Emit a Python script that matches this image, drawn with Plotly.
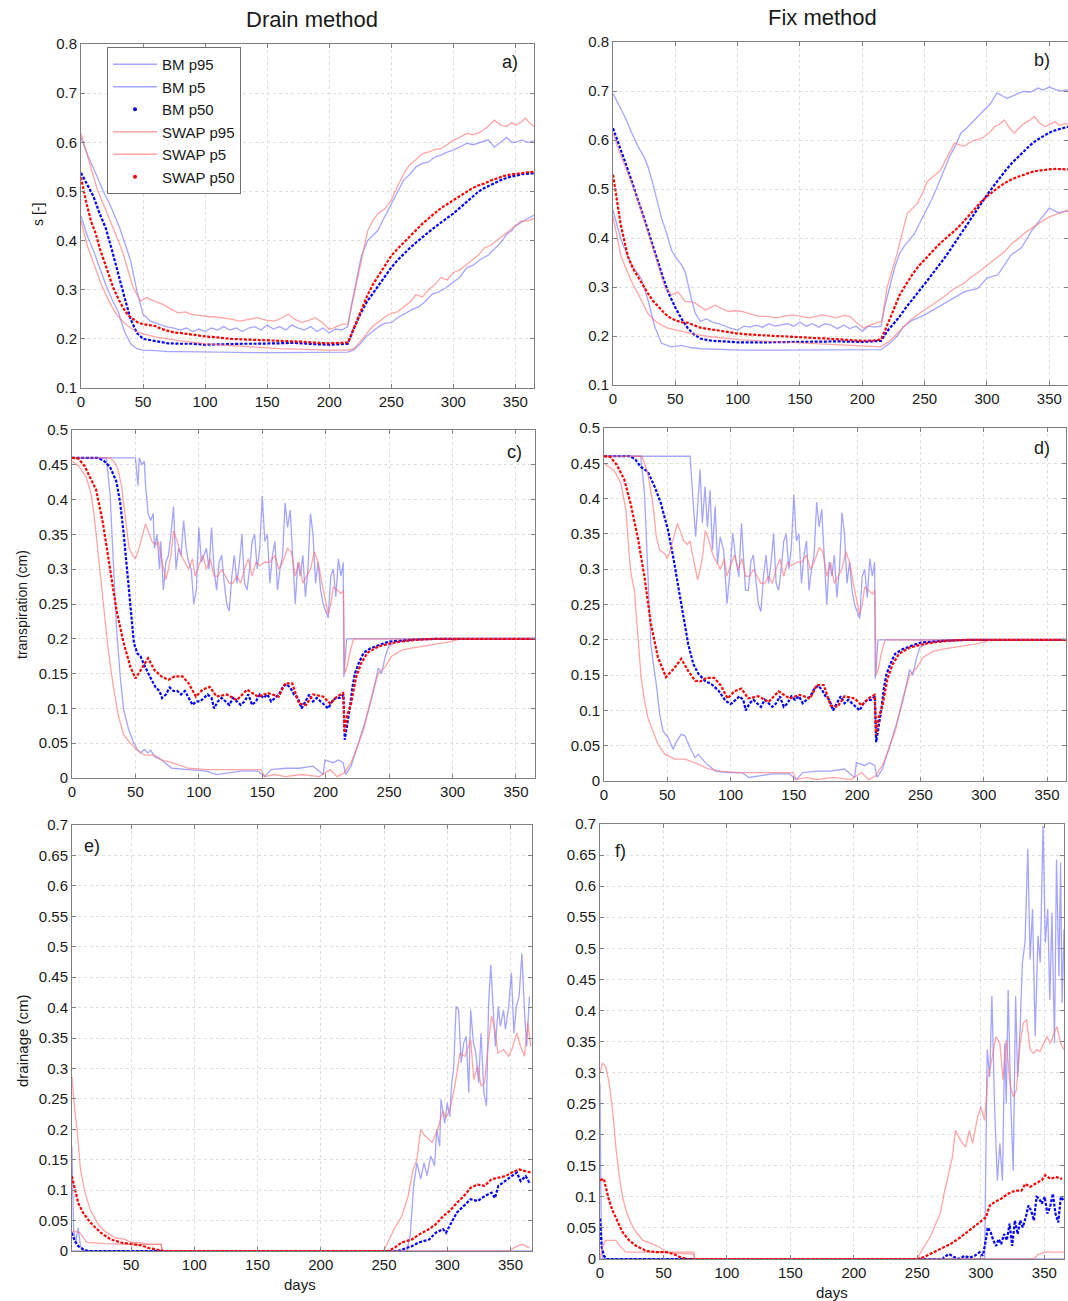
import plotly.graph_objects as go

W, H = 1068, 1301

# ---------------- tick definitions ----------------
DAY_TICKS = [0, 50, 100, 150, 200, 250, 300, 350]
S_TICKS = [0.1, 0.2, 0.3, 0.4, 0.5, 0.6, 0.7, 0.8]
T_TICKS = [0, 0.05, 0.1, 0.15, 0.2, 0.25, 0.3, 0.35, 0.4, 0.45, 0.5]
D_TICKS = [0, 0.05, 0.1, 0.15, 0.2, 0.25, 0.3, 0.35, 0.4, 0.45, 0.5, 0.55, 0.6, 0.65, 0.7]

SERIES_NAMES = ["BM p95", "BM p5", "BM p50", "SWAP p95", "SWAP p5", "SWAP p50"]

# ---------------- panel a: s [-], drain method ----------------
a_bm95 = [(0,0.61),(6,0.57),(12,0.536),(18,0.5),(23,0.475),(27,0.45),(31,0.427),(36,0.39),(40,0.359),(45,0.298),(50,0.25),(56,0.236),(60,0.232),(65,0.228),(70,0.224),(75,0.222),(80,0.218),(85,0.222),(90,0.215),(95,0.22),(100,0.215),(105,0.222),(110,0.218),(115,0.225),(120,0.218),(125,0.222),(130,0.215),(135,0.222),(140,0.225),(145,0.218),(150,0.228),(155,0.22),(160,0.225),(165,0.218),(170,0.228),(175,0.222),(180,0.218),(185,0.225),(190,0.215),(195,0.222),(200,0.212),(205,0.22),(210,0.218),(215,0.225),(218,0.27),(222,0.32),(226,0.37),(231,0.4),(235,0.41),(239,0.42),(245,0.45),(250,0.475),(255,0.5),(260,0.523),(265,0.535),(270,0.55),(275,0.557),(280,0.56),(285,0.57),(290,0.574),(295,0.58),(300,0.584),(305,0.59),(311,0.598),(316,0.595),(322,0.6),(328,0.605),(333,0.59),(338,0.6),(343,0.61),(347,0.6),(350,0.6),(355,0.605),(360,0.6),(365,0.603)]
a_bm5 = [(0,0.45),(5,0.41),(10,0.38),(15,0.345),(20,0.31),(25,0.28),(30,0.255),(35,0.215),(40,0.19),(45,0.18),(50,0.177),(60,0.176),(70,0.174),(80,0.174),(100,0.173),(120,0.172),(140,0.172),(160,0.172),(180,0.172),(200,0.172),(215,0.173),(220,0.178),(225,0.19),(230,0.205),(235,0.215),(240,0.225),(245,0.232),(250,0.233),(255,0.243),(260,0.25),(267,0.26),(272,0.265),(277,0.275),(283,0.291),(288,0.295),(294,0.304),(300,0.315),(305,0.325),(311,0.345),(316,0.35),(322,0.362),(328,0.37),(333,0.383),(338,0.395),(343,0.413),(347,0.42),(350,0.43),(355,0.438),(360,0.445),(365,0.452)]
a_bm50 = [(0,0.538),(5,0.515),(10,0.49),(15,0.455),(20,0.425),(25,0.38),(30,0.33),(35,0.285),(40,0.24),(45,0.212),(50,0.2),(55,0.198),(60,0.196),(65,0.194),(70,0.191),(80,0.19),(90,0.19),(100,0.188),(110,0.189),(120,0.19),(130,0.19),(140,0.19),(150,0.19),(160,0.191),(170,0.192),(180,0.19),(190,0.189),(200,0.188),(210,0.189),(215,0.19),(220,0.222),(225,0.25),(230,0.274),(235,0.292),(240,0.31),(245,0.328),(250,0.345),(255,0.36),(260,0.373),(265,0.385),(270,0.396),(275,0.407),(280,0.417),(285,0.427),(290,0.437),(295,0.446),(300,0.455),(305,0.466),(310,0.478),(315,0.489),(320,0.499),(325,0.507),(330,0.513),(335,0.519),(340,0.525),(345,0.529),(350,0.532),(355,0.535),(360,0.536),(365,0.537)]
a_sw95 = [(0,0.618),(5,0.575),(9,0.536),(13,0.505),(17,0.48),(22,0.45),(26,0.427),(30,0.4),(34,0.373),(38,0.34),(42,0.304),(48,0.277),(53,0.284),(58,0.278),(62,0.274),(66,0.27),(70,0.264),(74,0.258),(78,0.253),(84,0.255),(89,0.25),(95,0.248),(100,0.246),(107,0.245),(114,0.243),(121,0.24),(128,0.236),(135,0.24),(142,0.243),(149,0.238),(156,0.236),(162,0.243),(167,0.25),(172,0.24),(178,0.233),(184,0.238),(189,0.243),(195,0.232),(200,0.219),(206,0.225),(211,0.23),(215,0.23),(220,0.29),(225,0.345),(231,0.42),(235,0.44),(239,0.454),(245,0.465),(250,0.482),(255,0.51),(260,0.536),(265,0.555),(270,0.565),(275,0.577),(280,0.58),(285,0.585),(290,0.587),(295,0.595),(300,0.604),(305,0.61),(311,0.618),(316,0.615),(322,0.621),(328,0.632),(333,0.645),(338,0.635),(343,0.632),(347,0.64),(350,0.635),(354,0.64),(358,0.649),(362,0.638),(365,0.632)]
a_sw5 = [(0,0.44),(5,0.39),(10,0.355),(15,0.32),(20,0.29),(25,0.265),(30,0.245),(35,0.232),(40,0.222),(45,0.215),(50,0.21),(60,0.204),(70,0.2),(80,0.196),(100,0.19),(120,0.186),(140,0.183),(160,0.18),(180,0.178),(200,0.177),(215,0.177),(220,0.18),(225,0.195),(230,0.21),(235,0.225),(240,0.235),(245,0.245),(250,0.252),(255,0.255),(260,0.265),(265,0.275),(270,0.29),(275,0.285),(280,0.3),(285,0.31),(290,0.325),(295,0.32),(300,0.335),(305,0.34),(310,0.35),(315,0.36),(320,0.37),(325,0.385),(330,0.39),(335,0.4),(340,0.41),(345,0.42),(350,0.43),(355,0.44),(360,0.44),(365,0.445)]
a_sw50 = [(0,0.529),(4,0.48),(8,0.44),(12,0.413),(15,0.385),(17.5,0.366),(22,0.335),(26,0.304),(30,0.282),(34,0.263),(38,0.248),(42,0.24),(46,0.233),(50,0.23),(55,0.228),(60,0.226),(65,0.22),(70,0.216),(75,0.213),(80,0.212),(90,0.208),(100,0.205),(110,0.203),(120,0.2),(130,0.199),(140,0.198),(150,0.197),(160,0.196),(170,0.196),(180,0.194),(190,0.192),(200,0.191),(210,0.192),(215,0.193),(218,0.21),(222,0.236),(226,0.262),(230,0.284),(235,0.31),(240,0.33),(245,0.35),(250,0.369),(255,0.383),(260,0.396),(265,0.41),(270,0.422),(275,0.434),(280,0.445),(285,0.456),(290,0.466),(295,0.474),(300,0.482),(305,0.49),(310,0.499),(315,0.506),(320,0.512),(325,0.516),(330,0.522),(335,0.527),(340,0.531),(345,0.534),(350,0.536),(355,0.538),(360,0.539),(365,0.54)]

# ---------------- panel b: s [-], fix method ----------------
b_bm95 = [(0,0.695),(5,0.67),(10,0.645),(15,0.615),(20,0.587),(25,0.565),(28,0.546),(31,0.52),(35,0.478),(39,0.44),(43,0.41),(47,0.375),(50,0.362),(55,0.345),(58,0.33),(60,0.307),(63,0.275),(66,0.246),(70,0.23),(75,0.235),(80,0.228),(85,0.225),(90,0.22),(95,0.215),(100,0.212),(105,0.22),(110,0.218),(115,0.222),(120,0.218),(125,0.225),(130,0.22),(135,0.222),(140,0.225),(145,0.22),(150,0.228),(155,0.22),(160,0.225),(165,0.218),(170,0.225),(175,0.222),(180,0.215),(185,0.222),(190,0.215),(195,0.22),(200,0.21),(205,0.22),(210,0.218),(215,0.22),(218,0.26),(222,0.3),(226,0.34),(230,0.369),(234,0.385),(238,0.396),(242,0.41),(246,0.43),(250,0.45),(255,0.475),(260,0.504),(265,0.535),(270,0.566),(275,0.59),(279,0.614),(284,0.625),(290,0.641),(294,0.65),(298,0.662),(303,0.675),(308,0.696),(312,0.69),(316,0.685),(320,0.689),(325,0.695),(330,0.699),(335,0.698),(341,0.706),(345,0.702),(350,0.708),(355,0.703),(360,0.7),(365,0.703)]
b_bm5 = [(0,0.457),(6.5,0.396),(12,0.362),(17,0.335),(20,0.328),(23,0.315),(28,0.274),(33.5,0.219),(39,0.185),(47,0.178),(55,0.181),(63,0.176),(71,0.174),(85,0.173),(103,0.171),(130,0.171),(160,0.171),(190,0.171),(215,0.172),(222,0.185),(228,0.2),(233,0.219),(240,0.232),(250,0.243),(258,0.255),(265.5,0.267),(274,0.278),(281.7,0.29),(292.5,0.297),(300,0.318),(308.7,0.325),(314,0.345),(319.5,0.366),(327.6,0.38),(335.7,0.414),(343.8,0.441),(350,0.461),(357,0.452),(365,0.455)]
b_bm50 = [(0,0.624),(5,0.59),(10,0.553),(15,0.516),(20,0.48),(25,0.44),(30,0.4),(35,0.36),(40,0.32),(45,0.285),(50,0.258),(55,0.235),(60,0.216),(65,0.203),(70,0.195),(75,0.192),(80,0.19),(90,0.189),(100,0.187),(120,0.187),(140,0.188),(160,0.189),(180,0.189),(200,0.188),(215,0.19),(220,0.21),(225,0.225),(230,0.24),(235,0.258),(240,0.275),(245,0.29),(250,0.306),(255,0.322),(260,0.339),(265,0.356),(270,0.374),(275,0.393),(280,0.411),(285,0.43),(290,0.45),(295,0.47),(300,0.488),(305,0.505),(310,0.522),(315,0.538),(320,0.553),(325,0.566),(330,0.578),(335,0.59),(340,0.6),(345,0.608),(350,0.615),(355,0.62),(360,0.624),(365,0.627)]
b_sw95 = [(0,0.614),(6,0.57),(12,0.532),(16,0.505),(20,0.478),(24,0.445),(28,0.41),(32,0.38),(35,0.355),(38,0.33),(41.5,0.3),(47,0.284),(52,0.29),(58,0.27),(62,0.27),(66,0.267),(70,0.26),(74,0.253),(78,0.258),(82,0.263),(88,0.255),(93,0.25),(98,0.252),(103.6,0.25),(110,0.245),(117,0.24),(124,0.24),(130.6,0.237),(137,0.24),(144,0.243),(151,0.24),(157.6,0.237),(163,0.24),(168,0.243),(174,0.24),(179,0.237),(185,0.242),(190,0.24),(195,0.228),(200.8,0.216),(206,0.222),(211.5,0.226),(215.6,0.23),(220,0.3),(224,0.335),(228,0.369),(232,0.41),(236,0.45),(240,0.46),(244,0.47),(248,0.49),(252,0.515),(258,0.528),(263,0.539),(268,0.565),(274,0.594),(278,0.59),(281.7,0.587),(286,0.595),(290,0.6),(294,0.602),(298,0.607),(302,0.615),(306,0.627),(310,0.632),(314,0.641),(318,0.625),(322,0.614),(326,0.625),(330,0.634),(334,0.64),(338,0.648),(342,0.635),(346.5,0.627),(350,0.632),(354.6,0.637),(358,0.63),(362.6,0.634),(365,0.632)]
b_sw5 = [(0,0.444),(6.5,0.362),(12,0.328),(16,0.305),(20,0.287),(24,0.265),(28,0.246),(32,0.235),(36,0.226),(44,0.216),(55,0.209),(65,0.204),(76.6,0.199),(90,0.195),(103.6,0.192),(117,0.19),(130.6,0.189),(144,0.187),(157.6,0.185),(171,0.183),(184.6,0.182),(200,0.18),(215,0.178),(222,0.19),(228,0.205),(233,0.218),(238.5,0.232),(244,0.243),(250,0.253),(257,0.265),(265.5,0.28),(270,0.29),(276,0.3),(282,0.308),(287,0.32),(292,0.328),(298,0.34),(303,0.35),(308.7,0.361),(314,0.372),(319.5,0.388),(325,0.398),(330,0.41),(336,0.42),(341,0.43),(346,0.437),(350,0.443),(357,0.45),(365,0.457)]
b_sw50 = [(0,0.529),(3,0.48),(6,0.43),(9,0.395),(12,0.362),(16,0.338),(20,0.321),(24,0.303),(28,0.287),(32,0.272),(36,0.26),(40,0.25),(44,0.24),(50,0.232),(55,0.228),(60,0.227),(65,0.222),(70,0.217),(75,0.215),(80,0.213),(90,0.21),(100,0.205),(110,0.203),(120,0.201),(130,0.2),(140,0.199),(150,0.197),(160,0.196),(170,0.195),(180,0.193),(190,0.191),(200,0.19),(210,0.191),(215,0.193),(218,0.21),(222,0.236),(226,0.262),(230,0.284),(235,0.305),(240,0.325),(245,0.342),(250,0.356),(255,0.37),(260,0.383),(265,0.395),(270,0.406),(275,0.417),(280,0.43),(285,0.445),(290,0.46),(295,0.473),(300,0.485),(305,0.496),(310,0.505),(315,0.513),(320,0.52),(325,0.525),(330,0.53),(335,0.534),(340,0.537),(345,0.539),(350,0.54),(355,0.541),(360,0.541),(365,0.54)]

# ---------------- panel c: transpiration, drain method ----------------
c_bm95 = [(0,0.46),(50,0.46),(51,0.44),(52,0.42),(53,0.46),(55,0.45),(57,0.455),(58,0.42),(60,0.38),(62,0.37),(64,0.38),(65,0.33),(67,0.35),(69,0.3),(70,0.34),(72,0.27),(74,0.31),(76,0.32),(78,0.35),(80,0.39),(82,0.3),(84,0.33),(86,0.32),(88,0.37),(90,0.33),(92,0.31),(94,0.3),(96,0.25),(98,0.27),(100,0.36),(102,0.31),(104,0.32),(106,0.33),(108,0.3),(110,0.36),(112,0.3),(114,0.27),(116,0.31),(118,0.32),(120,0.28),(122,0.25),(124,0.24),(126,0.29),(128,0.32),(130,0.28),(132,0.31),(134,0.35),(136,0.28),(138,0.27),(140,0.3),(142,0.34),(144,0.35),(146,0.3),(148,0.33),(150,0.405),(152,0.34),(154,0.35),(156,0.28),(158,0.32),(160,0.34),(162,0.27),(164,0.3),(166,0.32),(168,0.395),(170,0.36),(172,0.385),(174,0.31),(176,0.25),(178,0.31),(180,0.29),(182,0.32),(184,0.26),(186,0.3),(188,0.38),(190,0.35),(192,0.28),(194,0.31),(196,0.27),(198,0.25),(200,0.24),(202,0.23),(204,0.29),(206,0.3),(208,0.26),(210,0.315),(212,0.29),(213.8,0.31),(214.3,0.145),(216.5,0.2),(365,0.2)]
c_bm5 = [(0,0.46),(27,0.46),(30,0.409),(32.5,0.313),(35,0.218),(38,0.146),(40.7,0.098),(44.8,0.069),(48.8,0.05),(51.5,0.041),(54,0.036),(57,0.041),(60,0.036),(62,0.04),(65,0.031),(70.5,0.026),(78.7,0.014),(92,0.012),(106,0.01),(114,0.005),(122,0.007),(133,0.01),(146.5,0.01),(152,0.002),(157,0.012),(168,0.014),(179,0.014),(190,0.017),(198,0.005),(199.4,0.026),(206,0.022),(210,0.026),(213.8,0.022),(215.7,0.005),(220,0.017),(225,0.045),(230.6,0.078),(236,0.112),(238.7,0.136),(241.5,0.158),(244,0.15),(247,0.175),(249.6,0.189),(255,0.195),(263,0.198),(270,0.2),(365,0.2)]
c_bm50 = [(0,0.46),(20,0.46),(25,0.456),(30,0.447),(35,0.426),(38,0.395),(40.7,0.352),(43.4,0.3),(46,0.25),(48.8,0.194),(51.5,0.179),(54,0.175),(57,0.162),(60,0.15),(63,0.14),(66,0.13),(69,0.125),(71,0.115),(74,0.12),(77,0.13),(80,0.125),(83,0.125),(86,0.12),(89,0.125),(92,0.115),(95,0.105),(98,0.11),(101,0.11),(104,0.115),(107,0.12),(110,0.115),(112,0.1),(115,0.11),(118,0.115),(121,0.11),(124,0.105),(127,0.115),(130,0.11),(133,0.105),(136,0.11),(139,0.12),(142,0.105),(145,0.11),(148,0.12),(151,0.115),(154,0.12),(157,0.11),(160,0.115),(163,0.12),(166,0.13),(169,0.135),(172,0.13),(175,0.12),(178,0.115),(181,0.1),(184,0.11),(187,0.12),(190,0.11),(193,0.115),(196,0.11),(199,0.105),(202,0.1),(205,0.11),(208,0.115),(211,0.115),(214,0.12),(215,0.055),(217,0.075),(219,0.1),(221,0.13),(223,0.15),(226,0.165),(230,0.18),(235,0.186),(240,0.19),(245,0.193),(250,0.196),(260,0.198),(270,0.199),(290,0.2),(365,0.2)]
c_sw95 = [(0,0.46),(30,0.46),(33,0.455),(36,0.445),(39,0.42),(41,0.39),(43,0.36),(45,0.33),(48,0.32),(50,0.315),(52,0.325),(55,0.345),(58,0.365),(60,0.355),(63,0.34),(66,0.335),(68,0.34),(70,0.32),(72,0.3),(74,0.285),(76,0.3),(78,0.32),(80,0.355),(83,0.34),(86,0.32),(89,0.31),(92,0.3),(95,0.315),(97,0.29),(100,0.305),(103,0.32),(106,0.3),(109,0.315),(112,0.29),(115,0.29),(118,0.3),(121,0.29),(124,0.28),(127,0.28),(130,0.29),(133,0.28),(136,0.3),(139,0.315),(142,0.29),(145,0.31),(148,0.305),(152,0.31),(156,0.31),(160,0.32),(163,0.3),(166,0.31),(170,0.33),(173,0.325),(176,0.29),(179,0.31),(182,0.28),(185,0.29),(188,0.3),(191,0.325),(194,0.31),(197,0.28),(200,0.25),(202,0.235),(204,0.25),(206,0.275),(209,0.27),(212,0.265),(214,0.27),(215,0.15),(217,0.16),(219,0.18),(222,0.2),(365,0.2)]
c_sw5 = [(0,0.455),(5.4,0.448),(10.9,0.433),(15,0.409),(17.6,0.375),(20.3,0.328),(23,0.29),(25.8,0.242),(28.5,0.185),(32.5,0.132),(36.6,0.089),(40.7,0.062),(46,0.05),(51.5,0.04),(57,0.033),(65,0.033),(70.5,0.026),(78.7,0.022),(92,0.014),(106,0.012),(133,0.012),(149,0.012),(152,0.002),(160,0.005),(168,0.002),(181,0.005),(195,0.002),(203.5,0.012),(209,0.002),(214.3,0.007),(220,0.022),(225,0.045),(230.6,0.074),(236,0.117),(241.5,0.15),(247,0.16),(252,0.175),(260.4,0.184),(268.6,0.187),(276.7,0.189),(285,0.191),(293,0.194),(298.4,0.196),(304,0.199),(306,0.2),(365,0.2)]
c_sw50 = [(0,0.46),(5,0.459),(10,0.448),(13.6,0.435),(19,0.414),(24.4,0.366),(30,0.303),(35,0.242),(40.7,0.194),(46,0.16),(50,0.143),(54,0.155),(60,0.172),(65,0.155),(70.5,0.146),(76,0.141),(81,0.146),(87,0.146),(92,0.136),(97.7,0.117),(103,0.127),(108.5,0.131),(114,0.117),(122,0.12),(130,0.112),(138,0.127),(146.5,0.117),(154.6,0.122),(163,0.117),(168,0.136),(173.6,0.136),(179,0.107),(184.5,0.105),(190,0.12),(198,0.117),(203.5,0.107),(209,0.117),(213.8,0.122),(215,0.065),(217,0.09),(220,0.107),(224,0.145),(228,0.165),(233,0.18),(241.5,0.189),(255,0.195),(268.6,0.198),(285,0.2),(365,0.2)]

# ---------------- panel d: transpiration, fix method ----------------
d_bm95 = [(0,0.46),(68,0.46),(70.5,0.393),(72.4,0.346),(74,0.389),(75.9,0.441),(77.7,0.365),(79.8,0.417),(81.7,0.36),(83.8,0.412),(85.7,0.327),(87.8,0.389),(89.7,0.308),(91.8,0.346),(94.5,0.327),(97.2,0.251),(99.8,0.303),(101.7,0.351),(103.8,0.318),(106.5,0.289),(108.6,0.365),(111.8,0.27)] + [p for p in c_bm95 if p[0] >= 114]
d_bm5 = [(0,0.46),(29,0.46),(32,0.408),(34.6,0.289),(37,0.194),(39.4,0.161),(41.3,0.137),(44,0.095),(46.6,0.071),(50.6,0.062),(54.6,0.045),(57,0.055),(61,0.066),(64,0.064),(68,0.047),(72,0.033),(74.5,0.038),(80,0.026),(88,0.014),(98.5,0.012),(109,0.012),(114.5,0.005),(122,0.007)] + [p for p in c_bm5 if p[0] > 122]
d_bm50 = [(0,0.46),(21,0.46),(25,0.455),(29,0.445),(34.6,0.438),(40,0.417),(45,0.393),(50.6,0.355),(54.6,0.318),(58.6,0.275),(62.5,0.232),(66.5,0.194),(70.5,0.166),(74.5,0.152),(79.8,0.142),(85,0.137),(90.5,0.128),(95.8,0.114),(99.8,0.109)] + [p for p in c_bm50 if p[0] > 100]
d_sw95 = [(0,0.46),(30,0.46),(34.6,0.436),(38.6,0.393),(41.3,0.346),(44,0.327),(48,0.322)] + [p for p in c_sw95 if p[0] > 48]
d_sw5 = [(0,0.45),(8,0.44),(13.3,0.422),(17.3,0.384),(20,0.318),(21.3,0.294),(24,0.27),(26.6,0.204),(29.3,0.147),(32,0.114),(34.6,0.09),(38.6,0.071),(42.6,0.052),(48,0.038),(56,0.031),(64,0.031),(69,0.028),(74.5,0.024),(82.5,0.017)] + [p for p in c_sw5 if p[0] > 85]
d_sw50 = [(0,0.46),(5,0.459),(10,0.448),(16,0.427),(21,0.393),(26.6,0.346),(32,0.289),(37,0.223),(42.6,0.175),(49,0.147),(56,0.161),(61,0.173),(66.5,0.156),(72,0.142)] + [p for p in c_sw50 if p[0] > 72]

# ---------------- panel e: drainage, drain method ----------------
e_bm95 = [(3.2,0.172),(4.6,0.036),(6.2,0.014),(8.2,0.038),(10,0.008),(12,0.002),(14,0),(268,0),(270.7,0.025),(273.4,0.107),(276,0.145),(279,0.118),(281.6,0.145),(284,0.124),(287,0.156),(290,0.14),(291.7,0.2),(294,0.172),(295,0.249),(298,0.21),(300,0.243),(302,0.221),(303.5,0.276),(305,0.298),(307,0.402),(309,0.396),(311,0.309),(313,0.342),(315,0.353),(317,0.26),(318.5,0.396),(320.7,0.342),(322.6,0.325),(324.8,0.276),(326.7,0.358),(329,0.26),(331,0.238),(332.7,0.407),(334.4,0.47),(336,0.418),(338,0.336),(340.4,0.402),(342,0.369),(344.5,0.396),(346,0.364),(348.6,0.402),(350.7,0.457),(352.7,0.358),(354.6,0.402),(356.8,0.418),(359,0.489),(361,0.396),(362.8,0.336),(365,0.418)]
e_bm5 = [(3.2,0),(367,0)]
e_bm50 = [(3.2,0.03),(5.4,0.017),(8.2,0.008),(12,0.003),(16,0),(261,0),(266.5,0.004),(272,0.008),(277.5,0.014),(285.7,0.019),(291,0.03),(296.6,0.036),(299,0.03),(302,0.041),(307.5,0.063),(313,0.074),(318.5,0.085),(324,0.082),(329.5,0.09),(335,0.096),(337.7,0.087),(340.4,0.107),(346,0.115),(351,0.123),(355,0.129),(358,0.115),(362,0.123),(365,0.112)]
e_sw95 = [(3.2,0.287),(5.4,0.232),(7.3,0.2),(10,0.134),(13.6,0.096),(17.7,0.068),(23,0.047),(28.7,0.033),(37,0.022),(45,0.019),(50.5,0.014),(56,0.014),(64,0.011),(73.8,0.011),(74.6,0),(249.6,0),(253,0.014),(258,0.036),(264,0.057),(269,0.09),(273,0.134),(276,0.15),(279,0.2),(281.6,0.191),(285.7,0.183),(288,0.178),(292.5,0.2),(296.6,0.23),(299,0.219),(302,0.232),(306,0.271),(310,0.325),(314,0.32),(318.5,0.347),(321,0.282),(324,0.304),(326.7,0.271),(329.5,0.276),(332,0.331),(335,0.386),(337.7,0.364),(340,0.325),(344.5,0.331),(348.6,0.32),(351,0.331),(355,0.358),(358,0.336),(361,0.32),(363.6,0.375),(366,0.336)]
e_sw5 = [(3.2,0.033),(9.5,0.03),(15,0.014),(28.7,0.012),(50,0.011),(73.8,0.011),(74.6,0),(349,0),(351,0.003),(355,0.008),(359,0.011),(365,0.005)]
e_sw50 = [(3.2,0.123),(5.4,0.101),(8.2,0.079),(12,0.063),(17.7,0.047),(26,0.03),(34,0.019),(42,0.014),(50.5,0.012),(58.7,0.009),(64,0.005),(72,0.001),(76,0),(253,0),(258,0.005),(264,0.014),(272,0.019),(277.5,0.027),(285.7,0.036),(291,0.044),(296.6,0.057),(302,0.066),(307.5,0.079),(313,0.09),(318.5,0.104),(324,0.109),(329.5,0.107),(335,0.118),(340.4,0.12),(346,0.123),(351,0.129),(356.8,0.134),(362,0.131),(366,0.129)]

# ---------------- panel f: drainage, fix method ----------------
f_bm95 = [(0,0.283),(0.8,0.078),(1.9,0.003),(3,0),(303,0),(305,0.337),(307,0.293),(308.7,0.423),(310.9,0.24),(313,0.126),(315,0.186),(317,0.126),(318.8,0.347),(320,0.25),(321.5,0.433),(323.6,0.25),(325.5,0.142),(327.4,0.423),(329,0.293),(330.9,0.369),(332.7,0.477),(334.8,0.509),(337,0.66),(338.8,0.482),(340.7,0.563),(342.8,0.358),(345,0.52),(346.8,0.477),(349,0.697),(350.8,0.509),(352.7,0.563),(354.3,0.417),(356,0.557),(358,0.347),(359.6,0.643),(361.5,0.455),(362.8,0.638),(364,0.412),(365.5,0.53)]
f_bm5 = [(0,0),(365.5,0)]
f_bm50 = [(0,0.065),(1.3,0.019),(3.2,0.005),(5,0),(270,0),(271,0.003),(275,0.008),(279,0.003),(283,0),(287,0.005),(291,0.002),(295,0.005),(299,0.011),(301.5,0.005),(303.4,0.024),(305.5,0.051),(307.7,0.043),(309.8,0.03),(312,0.021),(314,0.032),(316,0.024),(318.3,0.04),(320.5,0.03),(322.6,0.057),(324.7,0.021),(326.8,0.062),(329,0.04),(331,0.062),(333,0.051),(335.4,0.067),(337.5,0.086),(339.6,0.078),(341.8,0.062),(343.9,0.1),(346,0.097),(348,0.089),(350.3,0.1),(352.4,0.073),(354.5,0.083),(356.7,0.105),(358.8,0.073),(361,0.059),(363,0.1),(365.5,0.094)]
f_sw95 = [(0,0.299),(1.9,0.315),(4.5,0.31),(7.2,0.283),(9.9,0.24),(12.5,0.18),(15.2,0.132),(17.8,0.1),(20.5,0.078),(24.5,0.057),(28.5,0.043),(33.8,0.03),(41.8,0.024),(47,0.019),(52.5,0.011),(63,0.011),(73.8,0.011),(74.6,0),(249.6,0),(255,0.019),(260,0.035),(265.6,0.062),(268,0.073),(271,0.105),(275,0.142),(277.6,0.164),(280,0.207),(284,0.191),(288,0.18),(291,0.207),(293.5,0.186),(297.5,0.229),(300,0.245),(303,0.223),(305.5,0.293),(308,0.315),(312,0.358),(315,0.347),(317.5,0.288),(320,0.353),(322.9,0.283),(325.5,0.261),(328,0.272),(330.9,0.347),(333.5,0.38),(336,0.385),(338.8,0.337),(341.5,0.331),(344,0.337),(346.6,0.334),(349.5,0.347),(352,0.358),(354.8,0.347),(357.5,0.363),(360,0.374),(362.9,0.347),(365.5,0.337)]
f_sw5 = [(0,0),(1.9,0.019),(4.5,0.03),(12.5,0.03),(16.5,0.019),(20.5,0.011),(44.5,0.011),(73.8,0.008),(74.6,0),(341,0),(343,0.003),(345.6,0.008),(351,0.011),(365.5,0.011)]
f_sw50 = [(0,0.127),(3,0.129),(4.5,0.116),(7.2,0.094),(9.9,0.078),(13.9,0.059),(17.8,0.043),(23,0.03),(28.5,0.021),(36.5,0.013),(44.5,0.011),(52.5,0.011),(57.8,0.008),(63,0.003),(68.5,0),(249.6,0),(255,0.003),(260,0.008),(268,0.016),(276,0.024),(284,0.035),(292,0.048),(300,0.062),(304,0.067),(307,0.086),(311,0.092),(316,0.097),(321.5,0.105),(327,0.11),(332,0.11),(335,0.121),(338.8,0.116),(342.8,0.121),(348,0.127),(350.8,0.135),(354.8,0.129),(358.8,0.132),(364,0.129)]

# ---------------- styling ----------------
BLUE_LIGHT = "rgba(110,110,255,0.62)"
RED_LIGHT = "rgba(255,110,110,0.62)"
BLUE = "rgb(0,0,255)"
RED = "rgb(255,0,0)"
STYLES = [
    dict(color=BLUE_LIGHT, width=1.3),
    dict(color=BLUE_LIGHT, width=1.3),
    dict(color=BLUE, width=2.2, dash="3px,1.6px"),
    dict(color=RED_LIGHT, width=1.3),
    dict(color=RED_LIGHT, width=1.3),
    dict(color=RED, width=2.2, dash="3px,1.6px"),
]
FONT = "Liberation Sans, Arial, sans-serif"
AXC = "#808080"

panels = [
    dict(xpx=(81, 534), ypx=(44, 388), xr=[0, 365], yr=[0.1, 0.8], yt=S_TICKS,
         series=[a_bm95, a_bm5, a_bm50, a_sw95, a_sw5, a_sw50]),
    dict(xpx=(613, 1068), ypx=(42, 385), xr=[0, 365], yr=[0.1, 0.8], yt=S_TICKS,
         series=[b_bm95, b_bm5, b_bm50, b_sw95, b_sw5, b_sw50]),
    dict(xpx=(72, 535), ypx=(430, 778), xr=[0, 365], yr=[0, 0.5], yt=T_TICKS,
         series=[c_bm95, c_bm5, c_bm50, c_sw95, c_sw5, c_sw50]),
    dict(xpx=(604, 1066), ypx=(428, 781), xr=[0, 365], yr=[0, 0.5], yt=T_TICKS,
         series=[d_bm95, d_bm5, d_bm50, d_sw95, d_sw5, d_sw50]),
    dict(xpx=(72, 532), ypx=(825, 1251), xr=[3.3, 367], yr=[0, 0.7], yt=D_TICKS,
         series=[e_bm95, e_bm5, e_bm50, e_sw95, e_sw5, e_sw50]),
    dict(xpx=(600, 1064), ypx=(824, 1259), xr=[0, 365.5], yr=[0, 0.7], yt=D_TICKS,
         series=[f_bm95, f_bm5, f_bm50, f_sw95, f_sw5, f_sw50]),
]

fig = go.Figure()
layout_axes = {}

for i, p in enumerate(panels):
    n = "" if i == 0 else str(i + 1)
    xa, ya = "x" + n, "y" + n
    for k, (name, data) in enumerate(zip(SERIES_NAMES, p["series"])):
        xs = [d[0] for d in data]
        ys = [d[1] for d in data]
        fig.add_trace(go.Scatter(
            x=xs, y=ys, mode="lines", name=name, line=STYLES[k],
            xaxis=xa, yaxis=ya, legendrank=k + 1,
            showlegend=(i == 0 and k not in (2, 5)), hoverinfo="skip"))
    x0, x1 = p["xpx"]
    y0, y1 = p["ypx"]
    common = dict(showline=True, linecolor=AXC, linewidth=1, mirror="ticks",
                  ticks="inside", ticklen=4, tickcolor=AXC, automargin=False,
                  showgrid=True, gridcolor="#dedede", griddash="dot", gridwidth=1,
                  zeroline=False, tickfont=dict(family=FONT, size=15, color="#1a1a1a"))
    layout_axes["xaxis" + n] = dict(common, domain=[x0 / W, x1 / W], range=p["xr"], anchor=ya,
                                    tickvals=DAY_TICKS, ticktext=[str(t) for t in DAY_TICKS])
    layout_axes["yaxis" + n] = dict(common, domain=[1 - y1 / H, 1 - y0 / H], range=p["yr"], anchor=xa,
                                    tickvals=p["yt"], ticktext=[f"{t:g}" for t in p["yt"]])

# legend-only dot symbols for the p50 series
for k, col in ((2, BLUE), (5, RED)):
    fig.add_trace(go.Scatter(x=[None], y=[None], mode="markers", name=SERIES_NAMES[k],
                             marker=dict(color=col, size=4), legendrank=k + 1,
                             showlegend=True, xaxis="x", yaxis="y"))

def ann(text, px, py, size, angle=0):
    return dict(text=text, x=px / W, y=1 - py / H, xref="paper", yref="paper",
                showarrow=False, textangle=angle, xanchor="center", yanchor="middle",
                font=dict(family=FONT, size=size, color="#1a1a1a"))

annotations = [
    ann("Drain method", 312, 20, 22),
    ann("Fix method", 822, 18, 22),
    ann("s [-]", 38, 215, 14, -90),
    ann("transpiration (cm)", 22, 605, 14, -90),
    ann("drainage (cm)", 22, 1040, 15, -90),
    ann("days", 300, 1284, 15),
    ann("days", 832, 1292, 15),
    ann("a)", 510, 62, 18),
    ann("b)", 1042, 60, 18),
    ann("c)", 514, 452, 18),
    ann("d)", 1042, 448, 18),
    ann("e)", 92, 846, 18),
    ann("f)", 620, 851, 18),
]

fig.update_layout(
    width=W, height=H, margin=dict(l=0, r=0, t=0, b=0, pad=0, autoexpand=False),
    paper_bgcolor="white", plot_bgcolor="white",
    font=dict(family=FONT, size=15, color="#1a1a1a"),
    showlegend=True,
    legend=dict(x=107 / W, y=1 - 47 / H, xanchor="left", yanchor="top",
                bgcolor="white", bordercolor="#707070", borderwidth=1,
                font=dict(family=FONT, size=15, color="#1a1a1a"),
                traceorder="normal", tracegroupgap=0, itemwidth=44),
    annotations=annotations,
    **layout_axes,
)

fig.write_html("out.html", config={"displayModeBar": False},
               post_script="document.body.style.margin='0px';document.body.style.overflow='hidden';")
